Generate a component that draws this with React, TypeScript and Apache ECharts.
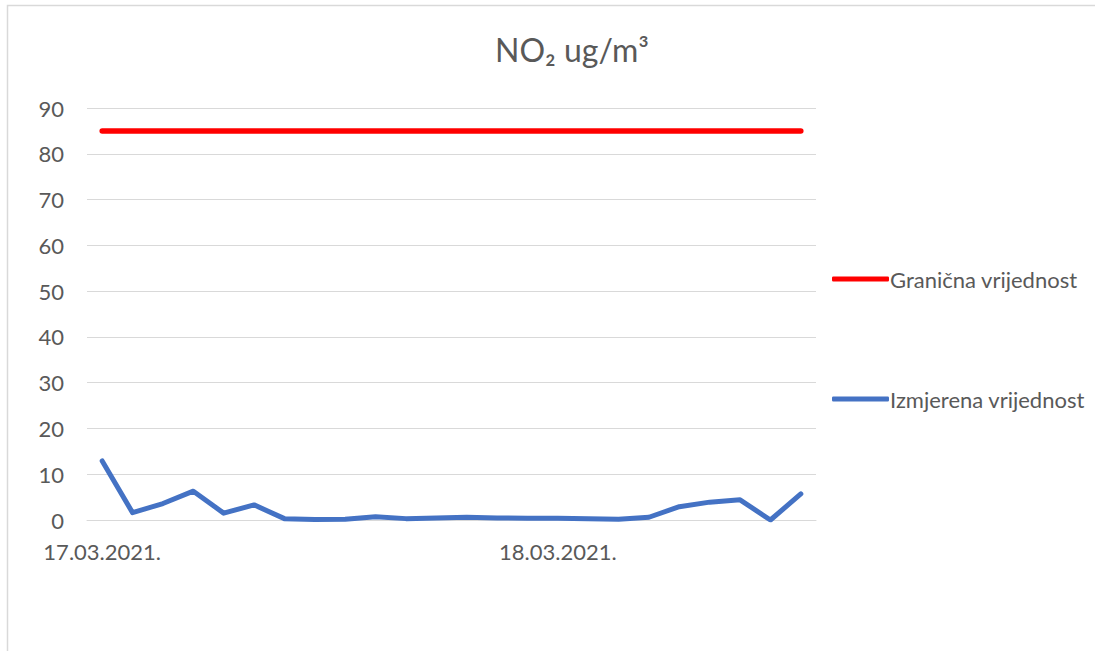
import React, { useEffect, useRef } from "react";
import * as echarts from "echarts";

const categories = [
  "17.03.2021.", "17.03.2021.", "17.03.2021.", "17.03.2021.", "17.03.2021.",
  "17.03.2021.", "17.03.2021.", "17.03.2021.", "17.03.2021.", "17.03.2021.",
  "17.03.2021.", "17.03.2021.", "17.03.2021.", "17.03.2021.", "17.03.2021.",
  "18.03.2021.", "18.03.2021.", "18.03.2021.", "18.03.2021.", "18.03.2021.",
  "18.03.2021.", "18.03.2021.", "18.03.2021.", "18.03.2021.",
];
const limitValues = [85, 85, 85, 85, 85, 85, 85, 85, 85, 85, 85, 85, 85, 85, 85, 85, 85, 85, 85, 85, 85, 85, 85, 85];
const measuredValues = [12.9, 1.6, 3.6, 6.3, 1.5, 3.3, 0.3, 0.1, 0.15, 0.7, 0.3, 0.45, 0.6, 0.45, 0.4, 0.4, 0.3, 0.15, 0.6, 2.9, 3.9, 4.4, 0.0, 5.7];
const seriesNames = ["Granična vrijednost", "Izmjerena vrijednost"];
const titleText = "NO₂ ug/m³";

const FONT = "Lato, 'Open Sans', sans-serif";
const TXT = "#595959";
const RED = "#ff0000";
const BLUE = "#4472c4";

export default function App() {
  const ref = useRef<HTMLDivElement>(null);
  useEffect(() => {
    if (!ref.current) return;
    const chart = echarts.init(ref.current, null, { renderer: "svg" });
    const legendCommon = {
      orient: "vertical",
      left: 832,
      padding: 0,
      itemWidth: 57,
      itemHeight: 5,
      icon: "roundRect",
      textStyle: { fontFamily: FONT, fontSize: 22, color: TXT, padding: [0, 0, 0, -4] },
    };
    chart.setOption({
      animation: false,
      backgroundColor: "#ffffff",
      title: {
        text: titleText,
        left: 567,
        textAlign: "center",
        top: 28,
        textStyle: { fontFamily: FONT, fontSize: 32, fontWeight: "normal", color: TXT },
      },
      graphic: [
        {
          type: "rect",
          shape: { x: 7.5, y: 5.5, width: 1200, height: 800 },
          style: { fill: "none", stroke: "#d9d9d9", lineWidth: 1.5 },
          silent: true,
        },
      ],
      legend: [
        { ...legendCommon, top: 268, data: [{ name: seriesNames[0], itemStyle: { color: RED } }] },
        { ...legendCommon, top: 388, data: [{ name: seriesNames[1], itemStyle: { color: BLUE } }] },
      ],
      grid: { left: 87, right: 279, top: 108, bottom: 131, containLabel: false },
      xAxis: {
        type: "category",
        data: categories,
        boundaryGap: true,
        axisLine: { show: true, lineStyle: { color: "#d9d9d9", width: 1 } },
        axisTick: { show: false },
        axisLabel: {
          interval: 14,
          fontFamily: FONT,
          fontSize: 22,
          color: TXT,
          margin: 20,
        },
        splitLine: { show: false },
      },
      yAxis: {
        type: "value",
        min: 0,
        max: 90,
        interval: 10,
        axisLine: { show: false },
        axisTick: { show: false },
        axisLabel: { fontFamily: FONT, fontSize: 22, color: TXT, margin: 23 },
        splitLine: { lineStyle: { color: "#d9d9d9", width: 1 } },
      },
      series: [
        {
          name: seriesNames[0],
          type: "line",
          data: limitValues,
          symbol: "none",
          color: RED,
          lineStyle: { color: RED, width: 5.5, cap: "round", join: "round" },
        },
        {
          name: seriesNames[1],
          type: "line",
          data: measuredValues,
          symbol: "none",
          color: BLUE,
          lineStyle: { color: BLUE, width: 5, cap: "round", join: "round" },
        },
      ],
    });
    return () => chart.dispose();
  }, []);
  return (
    <div
      ref={ref}
      style={{ position: "absolute", left: 0, top: 0, width: 1095, height: 651 }}
    />
  );
}
